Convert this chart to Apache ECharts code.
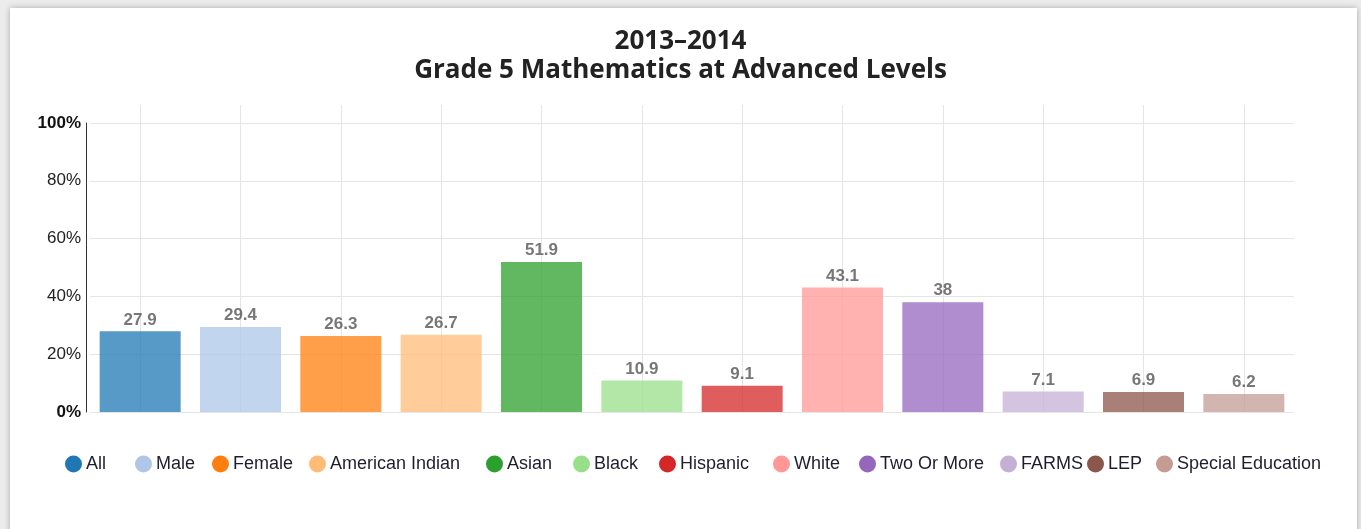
<!DOCTYPE html>
<html>
<head>
<meta charset="utf-8">
<script src="https://cdn.jsdelivr.net/npm/echarts@6/dist/echarts.min.js"></script>
<style>
html,body{margin:0;padding:0;background:#ececec;width:1361px;height:529px;overflow:hidden;}
#card{position:absolute;left:10px;top:8px;width:1347px;height:600px;background:#fff;box-shadow:0 0 6px rgba(0,0,0,0.28);}
#chart{position:absolute;left:0;top:0;width:1361px;height:529px;}
</style>
</head>
<body>
<div id="card"></div>
<div id="chart"></div>
<script>
const titleLines = ['2013\u20132014', 'Grade 5 Mathematics at Advanced Levels'];
const categories = ['All','Male','Female','American Indian','Asian','Black','Hispanic','White','Two Or More','FARMS','LEP','Special Education'];
const values = [27.9, 29.4, 26.3, 26.7, 51.9, 10.9, 9.1, 43.1, 38, 7.1, 6.9, 6.2];
const colors = ['#1f77b4','#aec7e8','#ff7f0e','#ffbb78','#2ca02c','#98df8a','#d62728','#ff9896','#9467bd','#c5b0d5','#8c564b','#c49c94'];
const yTicks = [0, 20, 40, 60, 80, 100];
const legendLeft = [65, 135, 212, 309, 486, 573, 659, 773, 859, 1000, 1087, 1156];

const chart = echarts.init(document.getElementById('chart'), null, {renderer:'canvas'});
const font = '"Liberation Sans", Arial, sans-serif';

const series = categories.map((name, i) => ({
  name: name,
  type: 'bar',
  stack: 'all',
  xAxisIndex: 0, yAxisIndex: 0,
  barWidth: 81,
  itemStyle: {color: colors[i], opacity: 0.75},
  label: {
    show: true, position: 'top', distance: 3,
    fontFamily: font, fontSize: 17, fontWeight: 'bold', color: '#4a4a4a',
    formatter: p => String(p.value)
  },
  emphasis: {disabled: true},
  data: categories.map((c, j) => j === i ? values[i] : null)
}));

const legends = categories.map((name, i) => ({
  data: [name],
  left: legendLeft[i], top: 455,
  padding: 0,
  icon: 'circle', itemWidth: 17, itemHeight: 17,
  itemStyle: {opacity: 1},
  textStyle: {fontFamily: font, fontSize: 18, color: '#1e1e2e', padding: [0,0,0,-1]},
  selectedMode: false
}));

chart.setOption({
  animation: false,
  title: {
    text: titleLines.join('\n'),
    left: 'center', top: 22,
    textStyle: {fontFamily: '"Open Sans", sans-serif', fontWeight: 'bold', fontSize: 26, color: '#222', lineHeight: 29}
  },
  legend: legends,
  grid: [
    {left: 90, right: 67, top: 123, bottom: 117},
    {left: 90, right: 67, top: 105, bottom: 117}
  ],
  xAxis: [
    {type: 'category', gridIndex: 0, data: categories, axisLine: {show: false}, axisTick: {show: false}, axisLabel: {show: false}, splitLine: {show: false}},
    {type: 'category', gridIndex: 1, data: categories, boundaryGap: true, axisLine: {show: false}, axisTick: {show: false},
     axisLabel: {show: false, interval: 0},
     splitLine: {show: true, interval: 0, alignWithLabel: true, lineStyle: {color: '#e5e5e5', width: 1}}}
  ],
  yAxis: [
    {type: 'value', gridIndex: 0, min: yTicks[0], max: yTicks[yTicks.length-1], interval: 20,
     offset: 4,
     axisLine: {show: true, lineStyle: {color: '#333', width: 1}}, axisTick: {show: false},
     splitLine: {show: true, lineStyle: {color: '#e5e5e5', width: 1}},
     axisLabel: {
       margin: 5, fontFamily: font, fontSize: 17, color: '#222',
       formatter: v => (v === 0 || v === 100) ? '{b|' + v + '%}' : v + '%',
       rich: {b: {fontFamily: font, fontSize: 17, fontWeight: 'bold', color: '#111'}}
     }},
    {type: 'value', gridIndex: 1, min: 0, max: 100, show: false, splitLine: {show: false}}
  ],
  series: series.concat([{type: 'bar', xAxisIndex: 1, yAxisIndex: 1, data: [], silent: true}])
});
</script>
</body>
</html>
